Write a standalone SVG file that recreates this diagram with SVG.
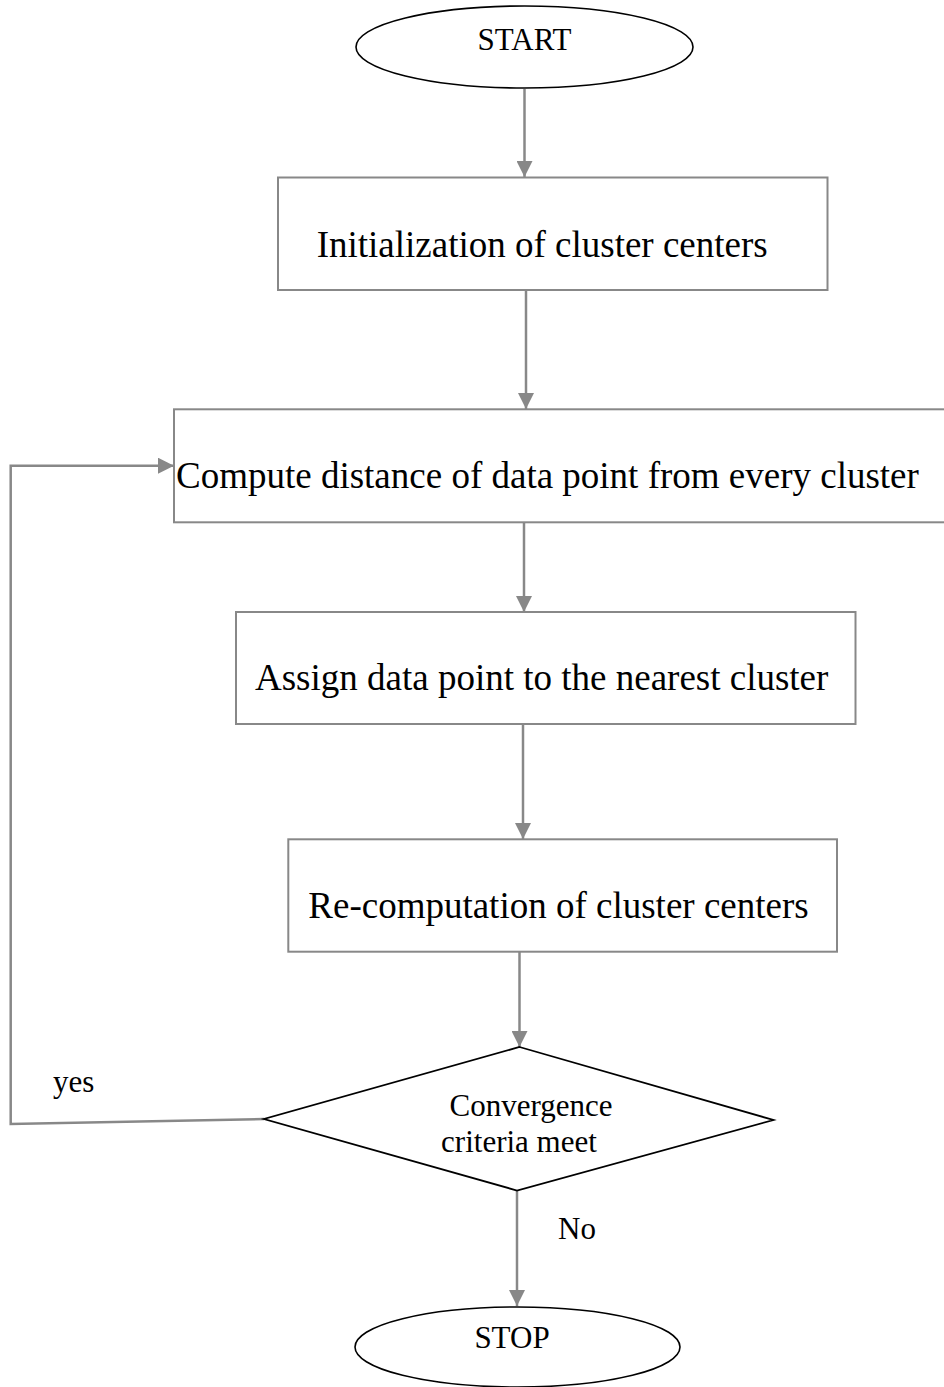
<svg xmlns="http://www.w3.org/2000/svg" width="944" height="1387" viewBox="0 0 944 1387">
  <style>
    .term { fill: #ffffff; stroke: #000000; stroke-width: 1.6; }
    .proc { fill: #ffffff; stroke: #888888; stroke-width: 2; }
    .dec { fill: #ffffff; stroke: #000000; stroke-width: 1.8; }
    .big { font-family: "Liberation Serif", "Times New Roman", serif; font-size: 37px; fill: #000000; }
    .small { font-family: "Liberation Serif", "Times New Roman", serif; font-size: 31px; fill: #000000; }
    .edge { fill: none; stroke: #888888; stroke-width: 2.5; }
  </style>
  <defs>
    <marker id="arrow" viewBox="0 0 16 16" markerUnits="userSpaceOnUse" markerWidth="16" markerHeight="16" refX="16" refY="8" orient="auto">
      <path d="M0,0 L16,8 L0,16 z" fill="#888888"/>
    </marker>
  </defs>
  <rect width="944" height="1387" fill="#ffffff"/>

  <!-- connectors -->
  <g id="connectors">
    <line class="edge" x1="524.5" y1="89" x2="524.5" y2="177" marker-end="url(#arrow)"/>
    <line class="edge" x1="526" y1="291" x2="526" y2="409" marker-end="url(#arrow)"/>
    <line class="edge" x1="524" y1="523" x2="524" y2="612" marker-end="url(#arrow)"/>
    <line class="edge" x1="523" y1="725" x2="523" y2="839" marker-end="url(#arrow)"/>
    <line class="edge" x1="519.5" y1="952" x2="519.5" y2="1047" marker-end="url(#arrow)"/>
    <line class="edge" x1="517" y1="1190" x2="517" y2="1306" marker-end="url(#arrow)"/>
    <polyline class="edge" points="264,1119 10.7,1124 10.7,465.7 174,465.7" marker-end="url(#arrow)"/>
  </g>

  <!-- labels on connectors -->
  <text class="small" x="53" y="1092">yes</text>
  <text class="small" x="558" y="1239">No</text>

  <g id="start">
    <ellipse class="term" cx="524.5" cy="47" rx="168.5" ry="41"/>
    <text class="small" x="524.5" y="50" text-anchor="middle">START</text>
  </g>

  <g id="init">
    <rect class="proc" x="278" y="177.5" width="549.5" height="112.5"/>
    <text class="big" x="316.7" y="256.7">Initialization of cluster centers</text>
  </g>

  <g id="distance">
    <rect class="proc" x="174" y="409.3" width="790" height="113"/>
    <text class="big" x="176" y="488.3">Compute distance of data point from every cluster</text>
  </g>

  <g id="assign">
    <rect class="proc" x="236" y="612" width="619.5" height="112"/>
    <text class="big" x="255" y="690">Assign data point to the nearest cluster</text>
  </g>

  <g id="recompute">
    <rect class="proc" x="288.3" y="839.3" width="548.7" height="112.4"/>
    <text class="big" x="308.3" y="918.3">Re-computation of cluster centers</text>
  </g>

  <g id="convergence">
    <polygon class="dec" points="519.5,1047 773.5,1120 517,1190.5 264,1119"/>
    <text class="small" x="531" y="1116" text-anchor="middle">Convergence</text>
    <text class="small" x="519" y="1152" text-anchor="middle">criteria meet</text>
  </g>

  <g id="stop">
    <ellipse class="term" cx="517.5" cy="1347" rx="162.5" ry="40"/>
    <text class="small" x="512" y="1348" text-anchor="middle">STOP</text>
  </g>
</svg>
